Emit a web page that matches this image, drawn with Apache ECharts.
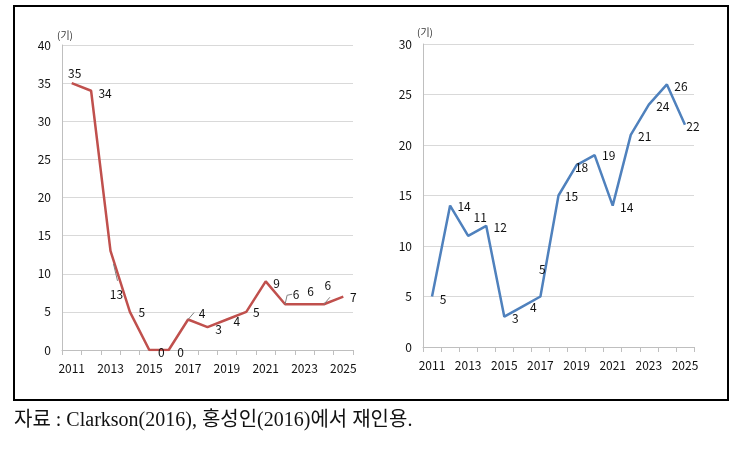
<!DOCTYPE html>
<html><head><meta charset="utf-8">
<script src="https://cdn.jsdelivr.net/npm/echarts@6/dist/echarts.min.js"></script>
<style>html,body{margin:0;padding:0;background:#fff}#c{width:738px;height:456px}</style>
</head><body><div id="c"></div>
<script>
const years = ['2011','2012','2013','2014','2015','2016','2017','2018','2019','2020','2021','2022','2023','2024','2025'];
const leftValues = [35,34,13,5,0,0,4,3,4,5,9,6,6,6,7];
const rightValues = [5,14,11,12,3,4,5,15,18,19,14,21,24,26,22];
const unitLabel = '(기)';
const caption = '자료 : Clarkson(2016), 홍성인(2016)에서 재인용.';

// label offsets (presentation only)
const leftOffsets = [[3,-10],[14,3],[6,44],[12,1],[12,2],[12,2],[14,-6],[11,2],[10,2],[10,1],[11,2],[11,-10],[6,-13],[4,-19],[10,1]];
const rightOffsets = [[11,3],[14,1],[12,-18],[14,2],[11,2],[11,1],[2,-27],[13,1],[5,2],[14,0],[14,2],[14,2],[14,2],[14,2],[8,2]];
// leader line paths relative to the data point (presentation only)
const leftLeaders = {2:[[3,13],[7,30]], 6:[[0,0],[6,-7]], 11:[[0,0],[2,-9],[7,-10]], 13:[[0,0],[6,-7]]};

const FONT = '"Noto Sans CJK KR", "Noto Sans", sans-serif';

function mkData(vals, offs){
  return vals.map((v,i)=>({value:v, label:{offset:offs[i]}}));
}

const chart = echarts.init(document.getElementById('c'), null, {renderer:'canvas'});
const axisCommonX = {
  type:'category', data:years, boundaryGap:true,
  axisLine:{lineStyle:{color:'#bfbfbf'}},
  axisTick:{show:true, interval:0, length:5, lineStyle:{color:'#bfbfbf'}},
  axisLabel:{interval:1, color:'#111', fontSize:12, fontFamily:FONT, margin:12}
};
const axisCommonY = {
  type:'value', interval:5,
  axisLine:{show:true, lineStyle:{color:'#bfbfbf'}},
  axisTick:{show:false},
  splitLine:{lineStyle:{color:'#d9d9d9', width:1}},
  axisLabel:{color:'#111', fontSize:12, fontFamily:FONT, margin:11}
};
const labelCommon = {show:true, position:'inside', color:'#111', fontSize:12, fontFamily:FONT};

const baseGraphics = [
  {type:'rect', shape:{x:14, y:6, width:714, height:394}, style:{fill:'none', stroke:'#000', lineWidth:2}, z:-1},
  {type:'text', left:57, top:30, style:{text:unitLabel, fontSize:10, fill:'#333', fontFamily:FONT}},
  {type:'text', left:417, top:27, style:{text:unitLabel, fontSize:10, fill:'#333', fontFamily:FONT}},
  {type:'text', left:14, top:411, style:{text:caption, fontSize:20, fill:'#111', fontFamily:'"Liberation Serif", "Noto Sans CJK KR", serif'}}
];

chart.setOption({
  animation:false,
  grid:[
    {left:62, right:385, top:45, bottom:106},
    {left:423, right:44, top:44, bottom:109}
  ],
  xAxis:[
    Object.assign({gridIndex:0}, axisCommonX),
    Object.assign({gridIndex:1}, axisCommonX)
  ],
  yAxis:[
    Object.assign({gridIndex:0, min:0, max:40}, axisCommonY),
    Object.assign({gridIndex:1, min:0, max:30}, axisCommonY)
  ],
  series:[
    {type:'line', xAxisIndex:0, yAxisIndex:0, data:mkData(leftValues,leftOffsets),
     symbol:'circle', symbolSize:1, itemStyle:{color:'rgba(0,0,0,0)', borderWidth:0},
     lineStyle:{color:'#c0504d', width:2.5}, label:labelCommon},
    {type:'line', xAxisIndex:1, yAxisIndex:1, data:mkData(rightValues,rightOffsets),
     symbol:'circle', symbolSize:1, itemStyle:{color:'rgba(0,0,0,0)', borderWidth:0},
     lineStyle:{color:'#4f81bd', width:2.5}, label:labelCommon}
  ],
  graphic: baseGraphics
});

const leaders = [];
Object.keys(leftLeaders).forEach(k=>{
  const i = +k;
  const p = chart.convertToPixel({gridIndex:0}, [years[i], leftValues[i]]);
  const pts = leftLeaders[k].map(d=>[p[0]+d[0], p[1]+d[1]]);
  leaders.push({type:'polyline', shape:{points:pts}, style:{stroke:'#808080', lineWidth:1, fill:'none'}, z:10});
});
chart.setOption({graphic: baseGraphics.concat(leaders)}, {replaceMerge:['graphic']});
</script></body></html>
